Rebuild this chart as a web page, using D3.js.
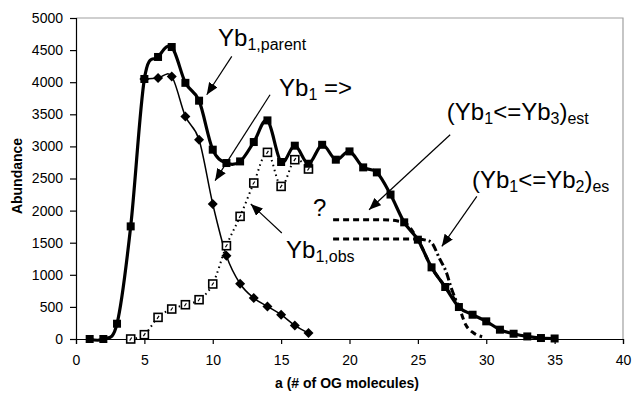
<!DOCTYPE html>
<html>
<head>
<meta charset="utf-8">
<script src="https://cdn.jsdelivr.net/npm/d3@7"></script>
<style>
  body { margin: 0; background: #fff; }
  svg { font-family: Arial, "Liberation Sans", sans-serif; }
</style>
</head>
<body>
<div id="chart"></div>
<script>
// Yb1,parent (thick line, filled squares)
var parentX = [1, 2, 3, 4, 5, 6, 7, 8, 9, 10, 11, 12, 13, 14, 15, 16, 17, 18, 19, 20,
  21, 22, 23, 24, 25, 26, 27, 28, 29, 30, 31, 32, 33, 34, 35];
var parentY = [0, 0, 238, 1754, 4050, 4393, 4548, 3990, 3712, 2949, 2741, 2766, 3068, 3405, 2757, 3011, 2730, 3025, 2793, 2922,
  2673, 2595, 2250, 1817, 1547, 1116, 810, 498, 378, 275, 145, 82, 40, 15, 8];
// Yb1 => (thin line, diamonds)
var yb1X = [5, 6, 7, 8, 9, 10, 11, 12, 13, 14, 15, 16, 17];
var yb1Y = [4050, 4065, 4090, 3467, 3104, 2103, 1297, 861, 638, 508, 379, 212, 93];
// Yb1,obs (dotted, open squares)
var obsX = [4, 5, 6, 7, 8, 9, 10, 11, 12, 13, 14, 15, 16, 17];
var obsY = [0, 67, 337, 467, 534, 612, 857, 1453, 1910, 2430, 2907, 2377, 2793, 2648];
// (Yb1<=Yb3)est dashed estimate
var est3X = [18.8, 22, 23, 23.6, 24, 25, 26, 27, 28, 28.5, 29.1, 29.7];
var est3Y = [1858, 1858, 1852, 1835, 1817, 1547, 1116, 810, 498, 222, 90, 35];
// (Yb1<=Yb2)es dashed / dash-dot estimate
var est2X = [18.8, 25, 25.9, 26.6, 27.1, 27.4, 28];
var est2Y = [1557, 1557, 1520, 1246, 1028, 820, 498];

var xTicks = [0, 5, 10, 15, 20, 25, 30, 35, 40];
var yTicks = [0, 500, 1000, 1500, 2000, 2500, 3000, 3500, 4000, 4500, 5000];

var W = 633, H = 393;
var margins = {left: 76, right: 10, top: 18, bottom: 54};
var w = 623 - margins.left, h = 339 - margins.top;

var svg = d3.select('#chart').append('svg')
  .attr('width', W).attr('height', H);
var g = svg.append('g')
  .attr('transform', 'translate(' + margins.left + ',' + margins.top + ')');

var xScale = d3.scaleLinear().domain([0, 40]).range([0, w]);
var yScale = d3.scaleLinear().domain([0, 5000]).range([h, 0]);

// plot frame (grey top/right)
g.append('path')
  .attr('d', 'M0,0H' + w + 'V' + h)
  .attr('fill', 'none').attr('stroke', '#a0a0a0').attr('stroke-width', 1.2);

var yAxis = g.append('g')
  .call(d3.axisLeft(yScale).tickValues(yTicks).tickFormat(d3.format('d')).tickSize(6).tickPadding(7));
var xAxis = g.append('g')
  .attr('transform', 'translate(0,' + h + ')')
  .call(d3.axisBottom(xScale).tickValues(xTicks).tickFormat(d3.format('d')).tickSize(5).tickPadding(11));
[xAxis, yAxis].forEach(function(a) {
  a.selectAll('text').attr('font-size', 14).attr('font-family', 'Arial, "Liberation Sans", sans-serif').attr('fill', '#000');
  a.selectAll('line').attr('stroke', '#000').attr('stroke-width', 1.2);
  a.select('.domain').attr('stroke', '#000').attr('stroke-width', 1.2);
});

svg.append('text')
  .attr('transform', 'translate(22,176) rotate(-90)')
  .attr('text-anchor', 'middle').attr('font-size', 14).attr('font-weight', 'bold')
  .text('Abundance');
svg.append('text')
  .attr('x', 347).attr('y', 388)
  .attr('text-anchor', 'middle').attr('font-size', 14).attr('font-weight', 'bold')
  .text('a (# of OG molecules)');

function zip(xs, ys) {
  return xs.map(function(x, i) { return {x: x, y: ys[i]}; });
}
var smooth = d3.line()
  .x(function(d) { return xScale(d.x); })
  .y(function(d) { return yScale(d.y); })
  .curve(d3.curveCatmullRom.alpha(0));
var mono = d3.line()
  .x(function(d) { return xScale(d.x); })
  .y(function(d) { return yScale(d.y); })
  .curve(d3.curveMonotoneX);

var parent = zip(parentX, parentY),
  yb1 = zip(yb1X, yb1Y),
  obs = zip(obsX, obsY),
  est3 = zip(est3X, est3Y),
  est2 = zip(est2X, est2Y);

// estimates (under the parent line)
g.append('path').datum(est3).attr('d', mono)
  .attr('fill', 'none').attr('stroke', '#000').attr('stroke-width', 3)
  .attr('stroke-dasharray', '6,4');
g.append('path').datum(est2.slice(0, 2)).attr('d', mono)
  .attr('fill', 'none').attr('stroke', '#000').attr('stroke-width', 3)
  .attr('stroke-dasharray', '6,4');
g.append('path').datum(est2.slice(1)).attr('d', mono)
  .attr('fill', 'none').attr('stroke', '#000').attr('stroke-width', 3)
  .attr('stroke-dasharray', '8,3,2,3');

// Yb1,obs dotted
g.append('path').datum(obs).attr('d', smooth)
  .attr('fill', 'none').attr('stroke', '#000').attr('stroke-width', 2)
  .attr('stroke-dasharray', '1.5,3.5');
// Yb1 thin
g.append('path').datum(yb1).attr('d', smooth)
  .attr('fill', 'none').attr('stroke', '#000').attr('stroke-width', 1.5);
// parent thick
g.append('path').datum(parent).attr('d', smooth)
  .attr('fill', 'none').attr('stroke', '#000').attr('stroke-width', 3.2);

// markers
g.selectAll('.obs').data(obs).enter().append('g')
  .attr('class', 'obs')
  .attr('transform', function(d) { return 'translate(' + xScale(d.x) + ',' + yScale(d.y) + ')'; })
  .each(function() {
    var m = d3.select(this);
    m.append('rect').attr('x', -4).attr('y', -4).attr('width', 8).attr('height', 8)
      .attr('fill', '#fff').attr('stroke', '#000').attr('stroke-width', 1.6);
    m.append('line').attr('x1', -1).attr('y1', 1.5).attr('x2', 1).attr('y2', -1.5)
      .attr('stroke', '#000').attr('stroke-width', 1.2);
  });
g.selectAll('.dia').data(yb1).enter().append('path')
  .attr('class', 'dia')
  .attr('d', 'M0,-5L5,0L0,5L-5,0Z')
  .attr('transform', function(d) { return 'translate(' + xScale(d.x) + ',' + yScale(d.y) + ')'; })
  .attr('fill', '#000');
g.selectAll('.sq').data(parent).enter().append('rect')
  .attr('class', 'sq')
  .attr('x', function(d) { return xScale(d.x) - 4; })
  .attr('y', function(d) { return yScale(d.y) - 4; })
  .attr('width', 8).attr('height', 8)
  .attr('fill', '#000');

// annotations (data coordinates)
var notes = [
  {x: 10.39, y: 4558, parts: [['Yb', 0], ['1,parent', 1]]},
  {x: 14.85, y: 3790, parts: [['Yb', 0], ['1', 1], [' =>', 0]]},
  {x: 15.36, y: 1266, parts: [['Yb', 0], ['1,obs', 1]]},
  {x: 17.34, y: 1920, parts: [['?', 0]]},
  {x: 27.12, y: 3414, parts: [['(Yb', 0], ['1', 1], ['<=Yb', 0], ['3', 1], [')', 0], ['est', 1]]},
  {x: 28.95, y: 2357, parts: [['(Yb', 0], ['1', 1], ['<=Yb', 0], ['2', 1], [')', 0], ['es', 1]]}
];
var arrows = [
  {x1: 11.39, y1: 4402, x2: 9.56, y2: 3805},
  {x1: 14.19, y1: 3805, x2: 10.17, y2: 2466},
  {x1: 15.05, y1: 1651, x2: 12.78, y2: 2103},
  {x1: 27.36, y1: 3182, x2: 21.43, y2: 2014},
  {x1: 29.31, y1: 2221, x2: 26.75, y2: 1442}
];

svg.append('defs').append('marker')
  .attr('id', 'head').attr('viewBox', '0 0 12 10')
  .attr('refX', 12).attr('refY', 5)
  .attr('markerWidth', 12).attr('markerHeight', 10)
  .attr('markerUnits', 'userSpaceOnUse')
  .attr('orient', 'auto')
  .append('path').attr('d', 'M0,0L12,5L0,10Z').attr('fill', '#000');

g.selectAll('.arrow').data(arrows).enter().append('line')
  .attr('class', 'arrow')
  .attr('x1', function(d) { return xScale(d.x1); })
  .attr('y1', function(d) { return yScale(d.y1); })
  .attr('x2', function(d) { return xScale(d.x2); })
  .attr('y2', function(d) { return yScale(d.y2); })
  .attr('stroke', '#000').attr('stroke-width', 1.2)
  .attr('marker-end', 'url(#head)');

notes.forEach(function(n) {
  var t = g.append('text')
    .attr('x', xScale(n.x)).attr('y', yScale(n.y))
    .attr('fill', '#000');
  var prevSub = 0;
  n.parts.forEach(function(p) {
    var s = t.append('tspan').text(p[0])
      .attr('font-size', p[1] ? 16 : 24);
    if (p[1] !== prevSub) s.attr('dy', p[1] ? 4 : -4);
    prevSub = p[1];
  });
});
</script>
</body>
</html>
